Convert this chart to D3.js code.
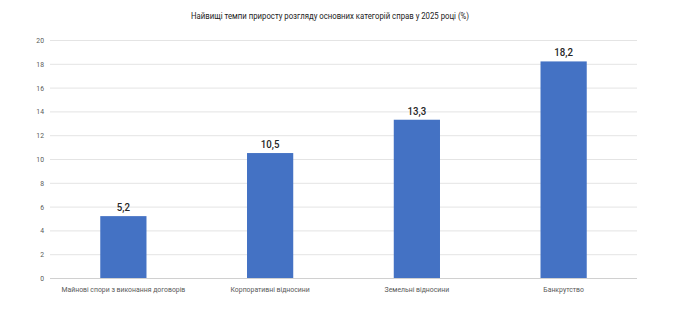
<!DOCTYPE html>
<html>
<head>
<meta charset="utf-8">
<script src="https://cdn.jsdelivr.net/npm/d3@7"></script>
<style>
  body { margin: 0; background: #fff; }
  text { font-family: Roboto, sans-serif; }
</style>
</head>
<body>
<svg id="chart" width="689" height="328"></svg>
<script>
const categories = ["Майнові спори з виконання договорів", "Корпоративні відносини", "Земельні відносини", "Банкрутство"]
const values = [5.2, 10.5, 13.3, 18.2]
const yTicks = [0, 2, 4, 6, 8, 10, 12, 14, 16, 18, 20]
const title = "Найвищі темпи приросту розгляду основних категорій справ у 2025 році (%)"

const svg = d3.select("#chart")
const margin = { left: 50, right: 52, top: 40, bottom: 50 }
const width = 689
const height = 328

// the original font is a condensed face, squeeze text horizontally around its anchor
function condense(sel, f, cx) {
    sel.attr("transform", function () {
        let ax = cx != null ? cx : +d3.select(this).attr("x") || 0
        return "translate(" + ax + ",0) scale(" + f + ",1) translate(" + -ax + ",0)"
    })
}

let x = d3.scaleBand()
    .domain(categories)
    .range([margin.left, width - margin.right])
    .paddingInner(0.685)
    .paddingOuter(0.3425)

let y = d3.scaleLinear().domain([0, 20]).range([height - margin.bottom, margin.top])

svg.append("text")
    .attr("x", 330)
    .attr("y", 19)
    .attr("text-anchor", "middle")
    .attr("font-size", 9.5)
    .attr("fill", "#222")
    .text(title)
    .call(condense, 0.82)

// gridlines
svg.append("g")
    .selectAll("line")
    .data(yTicks)
    .enter()
    .append("line")
    .attr("x1", margin.left)
    .attr("x2", width - margin.right)
    .attr("y1", (d) => y(d) + 0.5)
    .attr("y2", (d) => y(d) + 0.5)
    .attr("stroke", (d) => d == 0 ? "#d0d0d0" : "#e4e4e4")
    .attr("stroke-width", 1)

let yAxis = d3.axisLeft(y).tickValues(yTicks).tickSize(0).tickPadding(0)
svg.append("g")
    .attr("transform", "translate(" + (margin.left - 6) + ",0)")
    .call(yAxis)
    .call((g) => g.select(".domain").remove())
    .selectAll("text")
    .attr("font-size", 8)
    .attr("fill", "#595959")
    .style("font-family", "Roboto, sans-serif")
    .call(condense, 0.85, 0)

svg.append("g")
    .selectAll("rect")
    .data(values)
    .enter()
    .append("rect")
    .attr("x", (d, i) => x(categories[i]))
    .attr("width", x.bandwidth())
    .attr("y", (d) => y(d))
    .attr("height", (d) => y(0) - y(d))
    .attr("fill", "#4472c4")

svg.append("g")
    .selectAll("text")
    .data(values)
    .enter()
    .append("text")
    .attr("x", (d, i) => x(categories[i]) + x.bandwidth() / 2)
    .attr("y", (d) => y(d) - 5)
    .attr("text-anchor", "middle")
    .attr("font-size", 11)
    .attr("font-weight", 500)
    .attr("fill", "#262626")
    .text((d) => d.toFixed(1).replace(".", ","))
    .call(condense, 0.88)

let xAxis = d3.axisBottom(x).tickSize(0).tickPadding(0)
svg.append("g")
    .attr("transform", "translate(0," + (y(0) + 8) + ")")
    .call(xAxis)
    .call((g) => g.select(".domain").remove())
    .selectAll("text")
    .attr("font-size", 8)
    .attr("fill", "#595959")
    .style("font-family", "Roboto, sans-serif")
    .call(condense, 0.86, 0)
</script>
</body>
</html>
